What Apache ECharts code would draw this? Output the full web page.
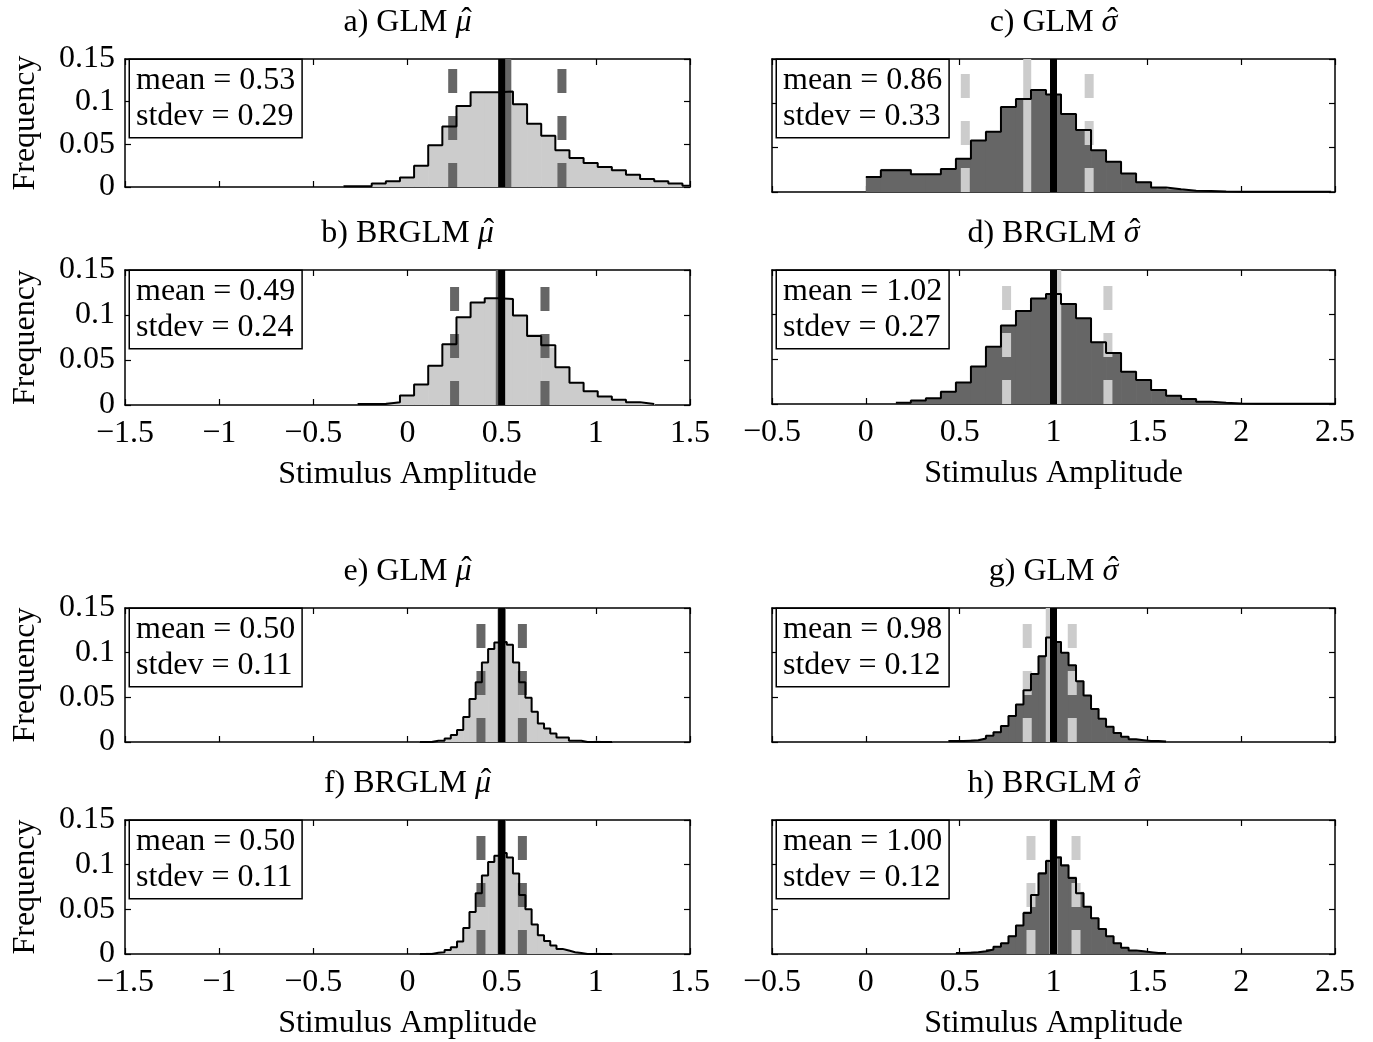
<!DOCTYPE html>
<html>
<head>
<meta charset="utf-8">
<script src="https://cdn.jsdelivr.net/npm/echarts@6/dist/echarts.min.js"></script>
<style>
  html, body { margin: 0; padding: 0; background: #fff; }
  #chart { width: 1373px; height: 1042px; }
</style>
</head>
<body>
<div id="chart"></div>
<script>
// ---- data ----
const muTicks = [-1.5, -1, -0.5, 0, 0.5, 1, 1.5]
const sigmaTicks = [-0.5, 0, 0.5, 1, 1.5, 2, 2.5]
const freqTicks = [0, 0.05, 0.1, 0.15]

const panelLetters = ['a)', 'b)', 'c)', 'd)', 'e)', 'f)', 'g)', 'h)']
const panelModels = ['GLM', 'BRGLM', 'GLM', 'BRGLM', 'GLM', 'BRGLM', 'GLM', 'BRGLM']
const panelParams = ['μ', 'μ', 'σ', 'σ', 'μ', 'μ', 'σ', 'σ']   // drawn with a hat
const panelMeans = [0.53, 0.49, 0.86, 1.02, 0.50, 0.50, 0.98, 1.00]
const panelStdevs = [0.29, 0.24, 0.33, 0.27, 0.11, 0.11, 0.12, 0.12]
const trueValues = [0.5, 0.5, 1, 1, 0.5, 0.5, 1, 1]

// histogram bins: first edge and width per panel
const binStarts = [-0.34, -0.265, 0, 0.16, 0.065, 0.065, 0.44, 0.48]
const binWidths = [0.075, 0.075, 0.08, 0.08, 0.033, 0.033, 0.04, 0.04]

// a) GLM mu
const fillA = [0.0005, 0.001, 0.0035, 0.007, 0.0115, 0.0245, 0.0495, 0.0705, 0.0955, 0.1105, 0.1115, 0.1115, 0.0975, 0.0735, 0.0605, 0.0425, 0.0345, 0.0275, 0.024, 0.019, 0.015, 0.009, 0.007, 0.0035, 0.002]
const stairsA = [0.0008, 0.0008, 0.004, 0.0067, 0.011, 0.025, 0.049, 0.071, 0.095, 0.111, 0.111, 0.112, 0.097, 0.074, 0.060, 0.043, 0.034, 0.028, 0.0235, 0.0196, 0.0145, 0.0094, 0.0067, 0.004, 0.0015]
// b) BRGLM mu
const fillB = [0.0005, 0.0015, 0.0035, 0.010, 0.023, 0.0435, 0.068, 0.0975, 0.1135, 0.119, 0.1175, 0.100, 0.079, 0.064, 0.0425, 0.0255, 0.0155, 0.0095, 0.006, 0.0028, 0.0012]
const stairsB = [0.001, 0.001, 0.003, 0.0106, 0.0228, 0.0437, 0.0676, 0.0976, 0.114, 0.1185, 0.1177, 0.0995, 0.0767, 0.0665, 0.042, 0.0247, 0.0152, 0.0095, 0.0057, 0.003, 0.001]
// c) GLM sigma
const fillC = [0.017, 0.026, 0.026, 0.0195, 0.0205, 0.0255, 0.038, 0.0575, 0.0685, 0.0955, 0.1055, 0.1145, 0.1105, 0.0875, 0.0705, 0.0465, 0.0345, 0.0205, 0.0115, 0.0048, 0.0032, 0.002, 0.001, 0.0005, 0.0003, 0.0003, 0.0003, 0.0003, 0.0003, 0.0003, 0.0003]
const stairsC = [0.017, 0.0245, 0.0245, 0.020, 0.020, 0.026, 0.0376, 0.058, 0.068, 0.096, 0.105, 0.115, 0.110, 0.088, 0.070, 0.047, 0.034, 0.021, 0.011, 0.005, 0.003, 0.0015, 0.001, 0.0005, 0.0003, 0.0003, 0.0003, 0.0003, 0.0003, 0.0003, 0.0003]
// d) BRGLM sigma
const fillD = [0.0012, 0.0042, 0.006, 0.014, 0.0235, 0.0425, 0.0635, 0.0885, 0.1035, 0.1185, 0.1225, 0.1125, 0.0955, 0.0695, 0.0565, 0.0365, 0.0265, 0.016, 0.009, 0.0058, 0.0025, 0.0016, 0.0006, 0.0004, 0.0003, 0.0003, 0.0003, 0.0002, 0.0002, 0.0002]
const stairsD = [0.0013, 0.004, 0.0063, 0.0138, 0.024, 0.042, 0.064, 0.088, 0.104, 0.118, 0.123, 0.112, 0.096, 0.069, 0.057, 0.036, 0.027, 0.0157, 0.0093, 0.0056, 0.0026, 0.0015, 0.0006, 0.0004, 0.0003, 0.0003, 0.0003, 0.0002, 0.0002, 0.0002]
// e) GLM mu, larger sample
const fillE = [0.001, 0.001, 0.002, 0.0015, 0.0045, 0.0075, 0.0135, 0.0275, 0.0485, 0.0665, 0.0895, 0.1035, 0.112, 0.1115, 0.1095, 0.0885, 0.0675, 0.049, 0.0345, 0.021, 0.015, 0.010, 0.0055, 0.0045, 0.002, 0.001, 0.0005, 0.001, 0.0015, 0.001, 0.0005]
const stairsE = [0, 0, 0.0015, 0.0015, 0.004, 0.0078, 0.0133, 0.028, 0.048, 0.067, 0.089, 0.104, 0.1115, 0.112, 0.109, 0.089, 0.067, 0.0496, 0.034, 0.0207, 0.0152, 0.0096, 0.005, 0.005, 0.0015, 0.0015, 0, 0, 0, 0, 0]
// f) BRGLM mu, larger sample
const fillF = [0.001, 0.0015, 0.0015, 0.002, 0.0045, 0.008, 0.0135, 0.0285, 0.0475, 0.0675, 0.0885, 0.1025, 0.1105, 0.1125, 0.1085, 0.0895, 0.0665, 0.0495, 0.0335, 0.0215, 0.014, 0.0095, 0.0055, 0.0035, 0.002, 0.001, 0.0005, 0.001, 0.0015, 0.001, 0.0005]
const stairsF = [0, 0, 0.0015, 0.002, 0.0045, 0.0075, 0.014, 0.029, 0.047, 0.068, 0.088, 0.103, 0.110, 0.113, 0.108, 0.090, 0.066, 0.050, 0.033, 0.021, 0.0145, 0.0095, 0.0055, 0.004, 0.002, 0.001, 0, 0, 0, 0, 0]
// g) GLM sigma, larger sample
const fillG = [0.0015, 0.0015, 0.002, 0.0025, 0.0035, 0.0065, 0.0115, 0.0175, 0.0295, 0.0415, 0.0585, 0.0755, 0.0965, 0.1165, 0.1125, 0.1005, 0.0855, 0.0685, 0.0515, 0.0375, 0.0255, 0.0175, 0.0095, 0.0065, 0.0035, 0.0025, 0.0015, 0.001, 0.0005]
const stairsG = [0.001, 0.001, 0.0015, 0.002, 0.004, 0.007, 0.011, 0.018, 0.029, 0.042, 0.058, 0.076, 0.096, 0.117, 0.112, 0.100, 0.086, 0.068, 0.052, 0.037, 0.026, 0.017, 0.010, 0.006, 0.003, 0.002, 0.001, 0.001, 0.0005]
// h) BRGLM sigma, larger sample
const fillH = [0.0015, 0.0015, 0.0025, 0.003, 0.0055, 0.0085, 0.0125, 0.0205, 0.0325, 0.0475, 0.0665, 0.0915, 0.1055, 0.1095, 0.1005, 0.0865, 0.0695, 0.0525, 0.0405, 0.0285, 0.0195, 0.0125, 0.0075, 0.0045, 0.003, 0.0025, 0.0015, 0.001]
const stairsH = [0.001, 0.0015, 0.002, 0.003, 0.005, 0.008, 0.012, 0.020, 0.032, 0.046, 0.066, 0.090, 0.104, 0.108, 0.099, 0.085, 0.068, 0.053, 0.040, 0.028, 0.020, 0.012, 0.007, 0.004, 0.003, 0.002, 0.001, 0.001]

const fills = [fillA, fillB, fillC, fillD, fillE, fillF, fillG, fillH]
const stairs = [stairsA, stairsB, stairsC, stairsD, stairsE, stairsF, stairsG, stairsH]

// ---- layout (pixels) ----
const layout = [
  { left: 125, top: 59, width: 565, height: 128, xLabels: false },
  { left: 125, top: 270, width: 565, height: 135, xLabels: true },
  { left: 772, top: 59, width: 563, height: 133, xLabels: false },
  { left: 772, top: 270, width: 563, height: 134, xLabels: true },
  { left: 125, top: 608, width: 565, height: 134, xLabels: false },
  { left: 125, top: 820, width: 565, height: 134, xLabels: true },
  { left: 772, top: 608, width: 563, height: 134, xLabels: false },
  { left: 772, top: 820, width: 563, height: 134, xLabels: true },
]

const FONT = 'Liberation Serif'
const FS = 32
const LIGHT = '#cccccc'
const DARK = '#666666'

const fmtNum = v => {
  const s = String(+v.toFixed(2))
  return v < 0 ? '\u2212' + s.slice(1) : s
}

// measure text so the hat can sit over the greek letter
const measureCtx = document.createElement('canvas').getContext('2d')
const textWidth = (str, italic) => {
  measureCtx.font = (italic ? 'italic ' : '') + FS + 'px "' + FONT + '"'
  return measureCtx.measureText(str).width
}

const grid = []
const xAxis = []
const yAxis = []
const series = []
const graphic = []

layout.forEach((L, i) => {
  const isMu = panelParams[i] === 'μ'
  const ticks = isMu ? muTicks : sigmaTicks
  const leftCol = L.left < 400
  const fillColor = isMu ? LIGHT : DARK
  const lineColor = isMu ? DARK : LIGHT
  const yMax = freqTicks[freqTicks.length - 1]

  grid.push({ left: L.left, top: L.top, width: L.width, height: L.height })

  const baseX = {
    gridIndex: i,
    type: 'value',
    min: ticks[0],
    max: ticks[ticks.length - 1],
    interval: ticks[1] - ticks[0],
    axisLine: { onZero: false, lineStyle: { color: '#000', width: 1.5 } },
    axisTick: { inside: true, length: 6, lineStyle: { color: '#000', width: 1.2 } },
    splitLine: { show: false },
  }
  xAxis.push(Object.assign({}, baseX, {
    position: 'bottom',
    axisLabel: { show: L.xLabels, margin: 13, color: '#000', fontFamily: FONT, fontSize: FS, formatter: fmtNum },
    name: L.xLabels ? 'Stimulus Amplitude' : '',
    nameLocation: 'middle',
    nameGap: 54,
    nameTextStyle: { color: '#000', fontFamily: FONT, fontSize: FS },
  }))
  xAxis.push(Object.assign({}, baseX, { position: 'top', axisLabel: { show: false } }))

  const baseY = {
    gridIndex: i,
    type: 'value',
    min: freqTicks[0],
    max: yMax,
    interval: freqTicks[1] - freqTicks[0],
    axisLine: { onZero: false, lineStyle: { color: '#000', width: 1.5 } },
    axisTick: { inside: true, length: 6, lineStyle: { color: '#000', width: 1.2 } },
    splitLine: { show: false },
  }
  yAxis.push(Object.assign({}, baseY, {
    position: 'left',
    axisLabel: { show: leftCol, margin: 10, color: '#000', fontFamily: FONT, fontSize: FS, formatter: fmtNum },
    name: leftCol ? 'Frequency' : '',
    nameLocation: 'middle',
    nameGap: 83,
    nameTextStyle: { color: '#000', fontFamily: FONT, fontSize: FS },
  }))
  yAxis.push(Object.assign({}, baseY, { position: 'right', axisLabel: { show: false } }))

  const start = binStarts[i]
  const w = binWidths[i]
  const axisIdx = { xAxisIndex: 2 * i, yAxisIndex: 2 * i }

  // filled histogram
  series.push(Object.assign({
    type: 'custom',
    clip: true,
    silent: true,
    encode: { x: [0, 1], y: 2 },
    data: fills[i].map((h, k) => [start + k * w, start + (k + 1) * w, h]),
    renderItem: (params, api) => {
      const p0 = api.coord([api.value(0), api.value(2)])
      const p1 = api.coord([api.value(1), 0])
      return {
        type: 'rect',
        shape: { x: p0[0], y: p0[1], width: p1[0] - p0[0] + 0.6, height: p1[1] - p0[1] },
        style: { fill: fillColor },
      }
    },
  }, axisIdx))

  // mean +/- stdev dashed lines, mean solid
  const m = panelMeans[i]
  const s = panelStdevs[i]
  ;[m - s, m + s].forEach(x => {
    series.push(Object.assign({
      type: 'line', silent: true, symbol: 'none',
      data: [[x, 0], [x, yMax]],
      lineStyle: { color: lineColor, width: 9, type: [24, 23] },
    }, axisIdx))
  })
  series.push(Object.assign({
    type: 'line', silent: true, symbol: 'none',
    data: [[m, 0], [m, yMax]],
    lineStyle: { color: lineColor, width: 8 },
  }, axisIdx))

  // outline histogram (stairs)
  const st = stairs[i]
  const stairData = st.map((h, k) => [start + k * w, h])
  stairData.push([start + st.length * w, st[st.length - 1]])
  series.push(Object.assign({
    type: 'line', silent: true, symbol: 'none', step: 'end',
    data: stairData,
    lineStyle: { color: '#000', width: 2 },
  }, axisIdx))

  // true value
  series.push(Object.assign({
    type: 'line', silent: true, symbol: 'none',
    data: [[trueValues[i], 0], [trueValues[i], yMax]],
    lineStyle: { color: '#000', width: 7 },
  }, axisIdx))

  // panel title: "a) GLM " + italic greek letter with a hat
  const prefix = panelLetters[i] + ' ' + panelModels[i] + ' '
  const w1 = textWidth(prefix, false)
  const w2 = textWidth(panelParams[i], true)
  const x0 = L.left + L.width / 2 - (w1 + w2) / 2
  const ty = L.top - 36
  graphic.push({
    type: 'text', z: 100, x: x0, y: ty,
    style: { text: prefix, font: FS + 'px "' + FONT + '"', fill: '#000', align: 'left', verticalAlign: 'middle' },
  })
  graphic.push({
    type: 'text', z: 100, x: x0 + w1, y: ty,
    style: { text: panelParams[i], font: 'italic ' + FS + 'px "' + FONT + '"', fill: '#000', align: 'left', verticalAlign: 'middle' },
  })
  graphic.push({
    type: 'text', z: 100, x: x0 + w1 + w2 / 2 + 3, y: ty - 2,
    style: { text: '\u02c6', font: FS + 'px "' + FONT + '"', fill: '#000', align: 'center', verticalAlign: 'middle' },
  })

  // stats box
  graphic.push({
    type: 'text',
    z: 100,
    x: L.left + 5,
    y: L.top + 1,
    style: {
      text: 'mean = ' + m.toFixed(2) + '\nstdev = ' + s.toFixed(2),
      font: FS + 'px "' + FONT + '"',
      lineHeight: 36,
      fill: '#000',
      backgroundColor: '#fff',
      borderColor: '#000',
      borderWidth: 1.5,
      padding: [3, 6, 2, 6],
    },
  })
})

const chart = echarts.init(document.getElementById('chart'))
chart.setOption({
  animation: false,
  backgroundColor: '#fff',
  grid,
  xAxis,
  yAxis,
  series,
  graphic,
})
</script>
</body>
</html>
